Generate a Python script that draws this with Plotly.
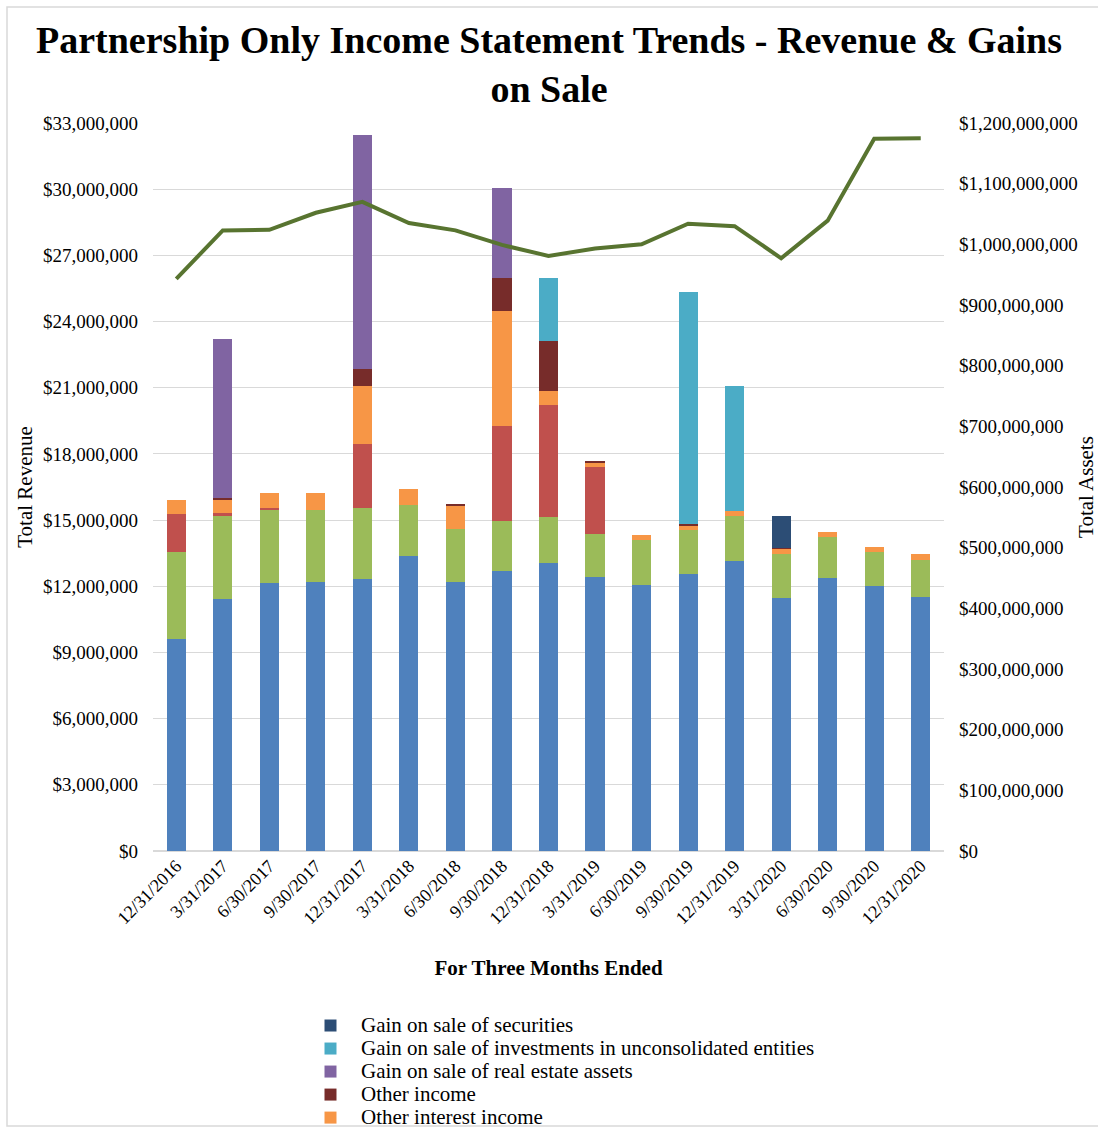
import plotly.graph_objects as go

# Quarter-end dates
quarters = ["12/31/2016", "3/31/2017", "6/30/2017", "9/30/2017", "12/31/2017",
            "3/31/2018", "6/30/2018", "9/30/2018", "12/31/2018", "3/31/2019",
            "6/30/2019", "9/30/2019", "12/31/2019", "3/31/2020", "6/30/2020",
            "9/30/2020", "12/31/2020"]

# Revenue components (USD)
investment_income = [9620000, 11440000, 12170000, 12210000, 12320000, 13350000, 12210000,
                     12700000, 13070000, 12400000, 12040000, 12550000, 13130000, 11480000,
                     12380000, 12020000, 11530000]
property_revenues = [3940000, 3740000, 3290000, 3270000, 3210000, 2350000, 2400000,
                     2270000, 2070000, 1950000, 2080000, 1990000, 2050000, 1990000,
                     1840000, 1540000, 1670000]
contingent_interest_income = [1710000, 130000, 90000, 0, 2930000, 0, 0,
                              4280000, 5070000, 3040000, 0, 0, 0, 0, 0, 0, 0]
other_interest_income = [620000, 640000, 660000, 730000, 2630000, 730000, 1070000,
                         5220000, 640000, 230000, 190000, 220000, 240000, 220000,
                         240000, 230000, 270000]
other_income = [0, 50000, 0, 0, 750000, 0, 60000, 1500000, 2270000, 30000,
                0, 60000, 0, 30000, 0, 0, 0]
gain_real_estate = [0, 7200000, 0, 0, 10600000, 0, 0, 4090000, 0, 0,
                    0, 0, 0, 0, 0, 0, 0]
gain_unconsolidated = [0, 0, 0, 0, 0, 0, 0, 0, 2860000, 0,
                       0, 10500000, 5650000, 0, 0, 0, 0]
gain_securities = [0, 0, 0, 0, 0, 0, 0, 0, 0, 0,
                   0, 0, 0, 1450000, 0, 0, 0]

# Total assets (USD), right axis
total_assets = [943e6, 1023e6, 1024e6, 1052e6, 1070e6, 1035e6, 1023e6, 999e6, 981e6,
                993e6, 1000e6, 1034e6, 1030e6, 977e6, 1039e6, 1174e6, 1175e6]

SERIF = "Liberation Serif, Times New Roman, serif"

bar_series = [
    ("Investment income", investment_income, "#4F81BD", False),
    ("Property revenues", property_revenues, "#9BBB59", False),
    ("Contingent interest income", contingent_interest_income, "#C0504D", False),
    ("Other interest income", other_interest_income, "#F79646", True),
    ("Other income", other_income, "#772C2A", True),
    ("Gain on sale of real estate assets", gain_real_estate, "#8064A2", True),
    ("Gain on sale of investments in unconsolidated entities", gain_unconsolidated, "#4BACC6", True),
    ("Gain on sale of securities", gain_securities, "#2C4D75", True),
]

fig = go.Figure()
for name, vals, color, in_legend in bar_series:
    # legend rows are packed tightly, so the label is sized larger than the row pitch
    label = f'<span style="font-size:21px">{name}</span>'
    fig.add_trace(go.Bar(x=quarters, y=vals, name=label, marker_color=color,
                         marker_line_width=0, showlegend=in_legend, yaxis="y",
                         hovertemplate=name + "<br>%{x}: $%{y:,.0f}<extra></extra>"))

fig.add_trace(go.Scatter(x=quarters, y=total_assets, name="Total Assets", mode="lines",
                         line=dict(color="#587430", width=4), yaxis="y2",
                         showlegend=False))

L, R, T, B = 153, 154, 123, 278
W, H = 1098, 1129
pw, ph = W - L - R, H - T - B

fig.update_layout(
    width=W, height=H,
    margin=dict(l=L, r=R, t=T, b=B, autoexpand=False),
    paper_bgcolor="white", plot_bgcolor="white",
    barmode="stack", bargap=0.59,
    font=dict(family=SERIF, size=19, color="#000000"),
    title=dict(text="<b>Partnership Only Income Statement Trends - Revenue & Gains<br>on Sale</b>",
               x=0.5, xanchor="center", y=1 - 53 / H, yanchor="top",
               font=dict(family=SERIF, size=38, color="#000000")),
    xaxis=dict(tickangle=-45, showgrid=False, showline=False, ticks="",
               tickfont=dict(size=18),
               title=dict(text="<b>For Three Months Ended</b>", font=dict(size=21), standoff=33)),
    yaxis=dict(range=[0, 33e6], dtick=3e6, tickprefix="$", tickformat=",.0f",
               showgrid=True, gridcolor="#D9D9D9", gridwidth=1, zeroline=True,
               zerolinecolor="#D9D9D9", showline=False, ticks="", ticklabelstandoff=14,
               tickfont=dict(size=19),
               title=dict(text="Total Revenue", font=dict(size=21), standoff=4)),
    yaxis2=dict(range=[0, 1.2e9], dtick=1e8, tickprefix="$", tickformat=",.0f",
                overlaying="y", side="right", showgrid=False, zeroline=False,
                showline=False, ticks="", ticklabelstandoff=14,
                tickfont=dict(size=19),
                title=dict(text="Total Assets", font=dict(size=21))),
    legend=dict(x=(300 - L) / pw, xanchor="left", y=(H - B - 1009) / ph, yanchor="top",
                traceorder="reversed", font=dict(size=15.4), bgcolor="rgba(0,0,0,0)",
                itemwidth=51, tracegroupgap=0),
    shapes=[dict(type="rect", xref="paper", yref="paper",
                 x0=(7 - L) / pw, x1=(1105 - L) / pw,
                 y0=(H - B - 1126) / ph, y1=(H - B - 7) / ph,
                 line=dict(color="#D9D9D9", width=1.5), layer="below")],
)

fig.write_html("out.html")
